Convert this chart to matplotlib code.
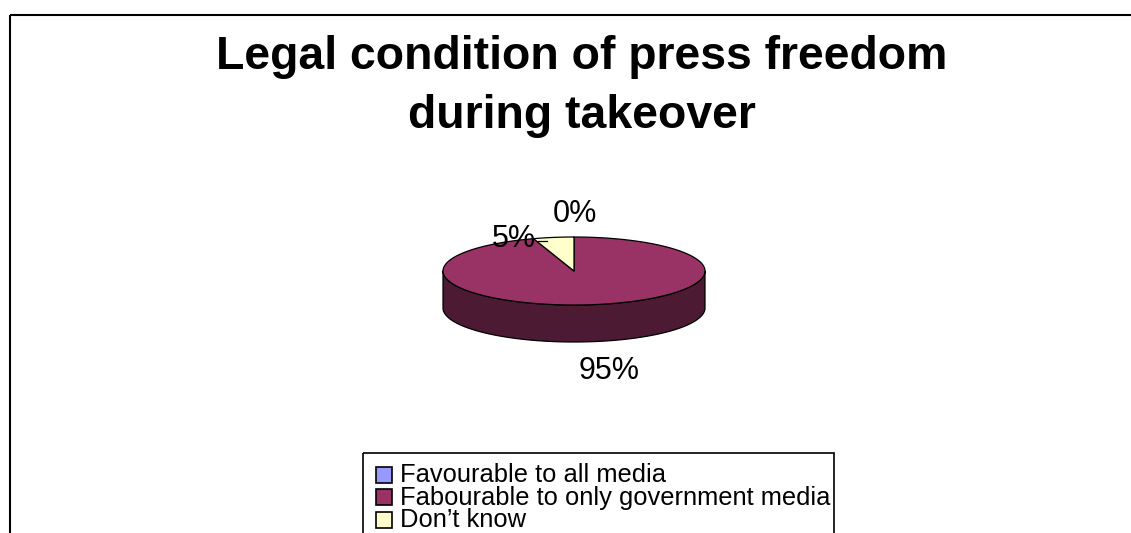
import matplotlib

matplotlib.use("Agg")

import matplotlib.pyplot as plt
import numpy as np
from matplotlib.colors import to_rgb
from matplotlib.patches import Polygon, Rectangle

# --- data ---
title = "Legal condition of press freedom\nduring takeover"
categories = [
    "Favourable to all media",
    "Fabourable to only government media",
    "Don\u2019t know",
]
shares = [0, 95, 5]
slice_colors = ["#9999FF", "#993366", "#FFFFCC"]

# --- layout (pixel units, y grows downward) ---
W, H = 1131, 533
CX, CY = 574, 271  # centre of the pie top
RX, RY = 131, 34  # ellipse radii of the tilted top
DEPTH = 37  # thickness of the pie side
# label baseline offsets from the rim point at each slice's mid angle
label_offsets = [(1, -15, "center"), (15, 37, "center"), (-18, 10, "right")]

plt.rcParams["font.family"] = ["Liberation Sans", "DejaVu Sans"]

fig = plt.figure(figsize=(W / 100, H / 100), dpi=100)
ax = fig.add_axes([0, 0, 1, 1])
ax.set_xlim(0, W)
ax.set_ylim(H, 0)
ax.axis("off")

# chart frame, runs off the right and bottom of the canvas
ax.add_patch(Rectangle((9.5, 15), W + 50, H + 50, fill=False, lw=1.5, ec="black"))

# multi-line baseline alignment anchors the last line
ax.text(582, 128, title, ha="center", va="baseline", fontsize=33.4,
        fontweight="bold", linespacing=1.45)


def rim(t0, t1, n=120):
    t = np.radians(np.linspace(t0, t1, n))
    return np.column_stack([CX + RX * np.cos(t), CY - RY * np.sin(t)])


def darker(color, k=0.5):
    return tuple(c * k for c in to_rgb(color))


total = float(sum(shares))
start = 90.0
spans = []
for value in shares:
    sweep = 360.0 * value / total
    spans.append((start, start - sweep))
    start -= sweep

# side walls: only the front half (angles -180..0) is visible
for (t0, t1), value, color in zip(spans, shares, slice_colors):
    if value == 0:
        continue
    for k in (-1, 0, 1):
        lo = max(t1, -180 + 360 * k)
        hi = min(t0, 360 * k)
        if hi <= lo:
            continue
        arc = rim(lo, hi)
        low = arc[::-1] + [0, DEPTH]
        ax.add_patch(Polygon(np.vstack([arc, low]), closed=True, fc=darker(color),
                             ec="black", lw=0.9, joinstyle="round"))

# top faces
for (t0, t1), value, color in zip(spans, shares, slice_colors):
    if value == 0:
        continue
    pts = np.vstack([[CX, CY], rim(t0, t1)])
    ax.add_patch(Polygon(pts, closed=True, fc=color, ec="black", lw=0.9,
                         joinstyle="round"))

# percentage labels
for (t0, t1), value, (dx, dy, ha) in zip(spans, shares, label_offsets):
    mid = np.radians((t0 + t1) / 2)
    x = CX + RX * np.cos(mid)
    y = CY - RY * np.sin(mid)
    if np.sin(mid) < 0:
        y += DEPTH
    ax.text(x + dx, y + dy, f"{value / total:.0%}", ha=ha, va="baseline",
            fontsize=22)
    if ha == "right":
        # short leader from the label into the slice
        ax.plot([x + dx + 2, x + dx + 11], [y + 3.5, y + 3.5], color="black", lw=0.9)

# legend box, clipped by the canvas bottom
ax.add_patch(Rectangle((363, 453), 471, 120, fill=False, lw=1.2, ec="black"))
for i, (name, color) in enumerate(zip(categories, slice_colors)):
    yc = 474.5 + i * 22.7
    ax.add_patch(Rectangle((376, yc - 8), 16, 16, fc=color, ec="black", lw=1.2))
    ax.text(400, yc + 7.5, name, ha="left", va="baseline", fontsize=18.4)

fig.savefig("out.png", dpi=100)
